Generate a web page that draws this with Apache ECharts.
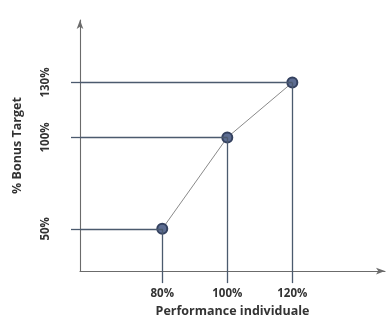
<!DOCTYPE html>
<html>
<head>
<meta charset="utf-8">
<style>
  html, body { margin: 0; padding: 0; background: #fff; }
  #chart { width: 390px; height: 323px; }
</style>
<script src="https://cdn.jsdelivr.net/npm/echarts@6/dist/echarts.min.js"></script>
</head>
<body>
<div id="chart"></div>
<script>
var perfValues = [80, 100, 120];   // % performance individuelle
var bonusValues = [50, 100, 130];  // % bonus target
var xName = 'Performance individuale';
var yName = '% Bonus Target';

var X_MIN = 54.7, X_MAX = 148.5;
var Y_MIN = 26.9, Y_MAX = 164.2;

var guideColor = '#4b5a6e';
var axisColor = '#6b6b6b';

var points = perfValues.map(function (p, i) { return [p, bonusValues[i]]; });

// lignes de rappel : axe Y -> point -> axe X
var guides = [];
points.forEach(function (pt) {
    guides.push([{ coord: [X_MIN, pt[1]] }, { coord: [pt[0], pt[1]] }]);
    guides.push([{ coord: [pt[0], pt[1]] }, { coord: [pt[0], Y_MIN] }]);
});

var chart = echarts.init(document.getElementById('chart'));
var option = {
    backgroundColor: '#fff',
    animation: false,
    textStyle: { fontFamily: 'Open Sans' },
    grid: { left: 80, right: 5, top: 20, bottom: 46 },
    xAxis: {
        type: 'value',
        min: X_MIN,
        max: X_MAX,
        name: xName,
        nameLocation: 'middle',
        nameGap: 31,
        nameTextStyle: { color: '#333', fontSize: 12.5, fontWeight: 'bold' },
        splitLine: { show: false },
        axisLine: {
            lineStyle: { color: axisColor, width: 1.1 },
            symbol: ['none', 'arrow'],
            symbolSize: [5, 9]
        },
        axisTick: {
            customValues: perfValues,
            length: 12,
            lineStyle: { color: guideColor, width: 1.3 }
        },
        axisLabel: {
            customValues: perfValues,
            formatter: '{value}%',
            margin: 17,
            color: '#333',
            fontSize: 11.5,
            fontWeight: 'bold'
        }
    },
    yAxis: {
        type: 'value',
        min: Y_MIN,
        max: Y_MAX,
        name: yName,
        nameLocation: 'middle',
        nameGap: 56,
        nameTextStyle: { color: '#333', fontSize: 12.5, fontWeight: 'bold' },
        splitLine: { show: false },
        axisLine: {
            show: true,
            lineStyle: { color: axisColor, width: 1.1 },
            symbol: ['none', 'arrow'],
            symbolSize: [5, 9]
        },
        axisTick: {
            show: true,
            customValues: bonusValues,
            length: 9,
            lineStyle: { color: guideColor, width: 1.3 }
        },
        axisLabel: {
            customValues: bonusValues,
            formatter: '{value}%',
            rotate: 90,
            margin: 28,
            color: '#333',
            fontSize: 11.5,
            fontWeight: 'bold'
        }
    },
    series: [{
        type: 'line',
        data: points,
        symbol: 'circle',
        symbolSize: 10,
        lineStyle: { color: '#8a8a8a', width: 1 },
        itemStyle: { color: '#5d6d92', borderColor: '#34415f', borderWidth: 2 },
        markLine: {
            silent: true,
            symbol: 'none',
            label: { show: false },
            lineStyle: { color: guideColor, width: 1.3, type: 'solid' },
            data: guides
        },
        z: 3
    }]
};
chart.setOption(option);
</script>
</body>
</html>
